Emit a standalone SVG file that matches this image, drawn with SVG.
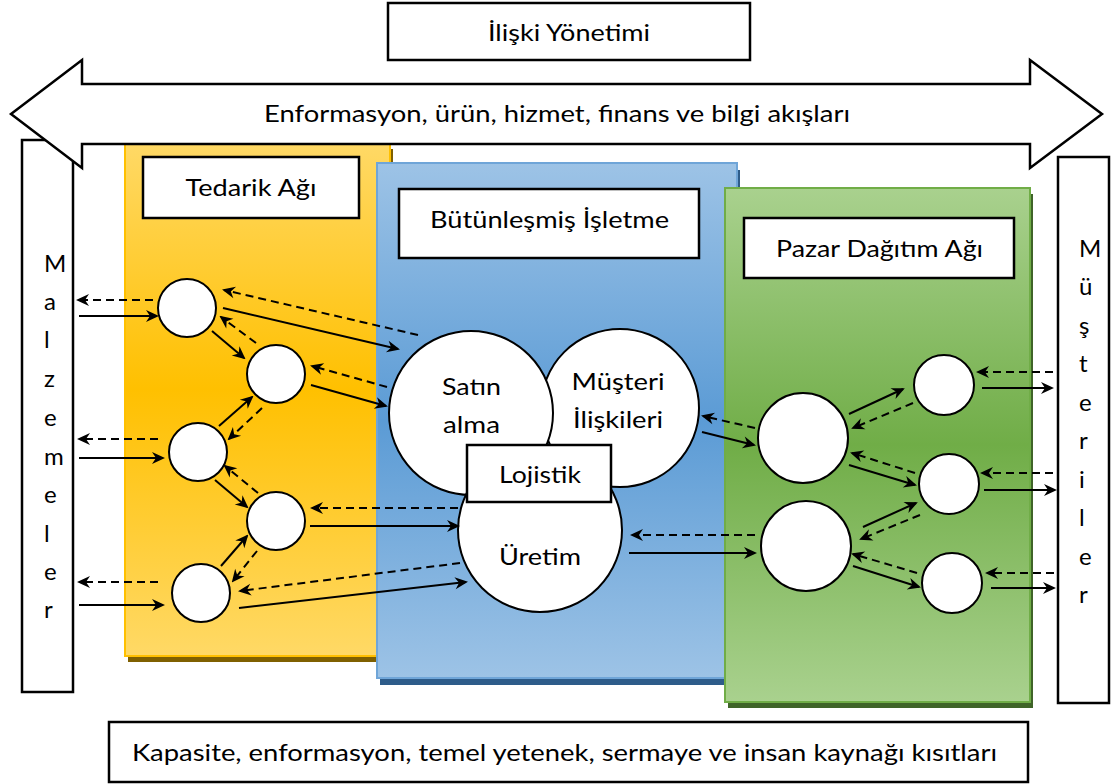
<svg xmlns="http://www.w3.org/2000/svg" width="1119" height="784" viewBox="0 0 1119 784">
<style>
  text { font-family: "Lato", "Open Sans", "Liberation Sans", sans-serif; font-size: 24px; fill: #000; }
  .c { text-anchor: middle; }
  .box { fill: #fff; stroke: #000; stroke-width: 2.5; }
  .circ { fill: #fff; stroke: #000; stroke-width: 2; }
  .s { stroke: #000; stroke-width: 2; fill: none; marker-end: url(#ah); }
  .d { stroke: #000; stroke-width: 2; fill: none; stroke-dasharray: 8 5; marker-end: url(#ah); }
</style>
<defs>
  <linearGradient id="gy" x1="0" y1="0" x2="0" y2="1">
    <stop offset="0" stop-color="#FFD966"/>
    <stop offset="0.48" stop-color="#FFC000"/>
    <stop offset="1" stop-color="#FFD966"/>
  </linearGradient>
  <linearGradient id="gb" x1="0" y1="0" x2="0" y2="1">
    <stop offset="0" stop-color="#9DC3E6"/>
    <stop offset="0.5" stop-color="#5B9BD5"/>
    <stop offset="1" stop-color="#9DC3E6"/>
  </linearGradient>
  <linearGradient id="gg" x1="0" y1="0" x2="0" y2="1">
    <stop offset="0" stop-color="#A9D18E"/>
    <stop offset="0.5" stop-color="#70AD47"/>
    <stop offset="1" stop-color="#A9D18E"/>
  </linearGradient>
  <marker id="ah" markerUnits="userSpaceOnUse" markerWidth="14" markerHeight="14" refX="12" refY="7" orient="auto">
    <path d="M1,1 L14,7 L1,13 L5,7 Z" fill="#000"/>
  </marker>
</defs>

<g id="malzemeler">
  <rect class="box" x="22" y="140" width="51" height="552"/>
  <text x="44" y="272">M</text>
  <text x="44" y="310">a</text>
  <text x="44" y="348">l</text>
  <text x="44" y="387">z</text>
  <text x="44" y="426">e</text>
  <text x="44" y="465">m</text>
  <text x="44" y="503">e</text>
  <text x="44" y="542">l</text>
  <text x="44" y="580">e</text>
  <text x="44" y="618">r</text>
</g>

<g id="musteriler">
  <rect class="box" x="1058" y="157" width="51" height="546"/>
  <text x="1079" y="257">M</text>
  <text x="1079" y="295">ü</text>
  <text x="1079" y="334">ş</text>
  <text x="1079" y="372">t</text>
  <text x="1079" y="411">e</text>
  <text x="1079" y="449">r</text>
  <text x="1079" y="488">i</text>
  <text x="1079" y="526">l</text>
  <text x="1079" y="565">e</text>
  <text x="1079" y="603">r</text>
</g>

<g id="tedarik-agi">
  <rect x="128" y="149" width="265" height="513" fill="#7F6000"/>
  <rect x="125" y="143" width="265" height="513" fill="url(#gy)" stroke="#FFC000" stroke-width="2"/>
  <rect class="box" x="143" y="157" width="216" height="61" stroke-width="2"/>
  <text class="c" x="251" y="196" textLength="131" lengthAdjust="spacingAndGlyphs">Tedarik Ağı</text>
</g>

<g id="butunlesmis-isletme">
  <rect x="380" y="170" width="360" height="515" fill="#2E5C8A"/>
  <rect x="377" y="163" width="360" height="515" fill="url(#gb)" stroke="#6FA5D8" stroke-width="2"/>
  <rect class="box" x="399" y="189" width="300" height="69" stroke-width="2"/>
  <text class="c" x="549.5" y="228" textLength="239" lengthAdjust="spacingAndGlyphs">Bütünleşmiş İşletme</text>
</g>

<g id="pazar-dagitim-agi">
  <rect x="728" y="194" width="305" height="514" fill="#3F6428"/>
  <rect x="725" y="188" width="305" height="514" fill="url(#gg)" stroke="#70AD47" stroke-width="2"/>
  <rect class="box" x="744" y="218" width="270" height="60" stroke-width="2"/>
  <text class="c" x="879.5" y="257" textLength="207" lengthAdjust="spacingAndGlyphs">Pazar Dağıtım Ağı</text>
</g>

<g id="akis-oku">
  <polygon points="11,114 82,60 82,84 1030,84 1030,60 1102,114 1030,168 1030,144 82,144 82,168" fill="#fff" stroke="#000" stroke-width="2.5" stroke-linejoin="miter"/>
  <text class="c" x="557" y="122" textLength="586" lengthAdjust="spacingAndGlyphs">Enformasyon, ürün, hizmet, finans ve bilgi akışları</text>
</g>

<g id="iliski-yonetimi">
  <rect class="box" x="388" y="3" width="362" height="57"/>
  <text class="c" x="569" y="41" textLength="162" lengthAdjust="spacingAndGlyphs">İlişki Yönetimi</text>
</g>

<g id="kisitlar">
  <rect class="box" x="109" y="722" width="919" height="60"/>
  <text class="c" x="564.5" y="761" textLength="865" lengthAdjust="spacingAndGlyphs">Kapasite, enformasyon, temel yetenek, sermaye ve insan kaynağı kısıtları</text>
</g>

<g id="musteri-iliskileri">
  <circle class="circ" cx="620" cy="408" r="79"/>
  <text class="c" x="618" y="390" textLength="93" lengthAdjust="spacingAndGlyphs">Müşteri</text>
  <text class="c" x="618" y="428" textLength="90" lengthAdjust="spacingAndGlyphs">İlişkileri</text>
</g>

<g id="satin-alma">
  <circle class="circ" cx="471" cy="413" r="82"/>
  <text class="c" x="471.5" y="395" textLength="59" lengthAdjust="spacingAndGlyphs">Satın</text>
  <text class="c" x="471.5" y="433" textLength="57" lengthAdjust="spacingAndGlyphs">alma</text>
</g>

<g id="uretim">
  <circle class="circ" cx="540" cy="530" r="82"/>
  <text class="c" x="540" y="565" textLength="82" lengthAdjust="spacingAndGlyphs">Üretim</text>
</g>

<g id="lojistik">
  <rect class="box" x="467" y="445" width="144" height="57" stroke-width="2"/>
  <text class="c" x="540" y="483" textLength="82" lengthAdjust="spacingAndGlyphs">Lojistik</text>
</g>

<g id="tedarikci-1"><circle class="circ" cx="187" cy="308" r="29"/></g>
<g id="tedarikci-2"><circle class="circ" cx="276" cy="374" r="29"/></g>
<g id="tedarikci-3"><circle class="circ" cx="198" cy="452" r="29"/></g>
<g id="tedarikci-4"><circle class="circ" cx="276" cy="521" r="29"/></g>
<g id="tedarikci-5"><circle class="circ" cx="201" cy="593" r="29"/></g>

<g id="dagitici-1"><circle class="circ" cx="803" cy="438" r="45"/></g>
<g id="dagitici-2"><circle class="circ" cx="806" cy="546" r="45"/></g>
<g id="perakende-1"><circle class="circ" cx="944" cy="385" r="30"/></g>
<g id="perakende-2"><circle class="circ" cx="949" cy="484" r="30"/></g>
<g id="perakende-3"><circle class="circ" cx="952" cy="583" r="30"/></g>

<g id="connectors">
  <line class="d" x1="153" y1="300" x2="78" y2="300"/>
  <line class="s" x1="79" y1="316" x2="157" y2="316"/>
  <line class="s" x1="223" y1="308" x2="398" y2="349"/>
  <line class="d" x1="418" y1="335" x2="224" y2="290"/>
  <line class="s" x1="212" y1="331" x2="244" y2="358"/>
  <line class="d" x1="256" y1="343" x2="221" y2="317"/>
  <line class="s" x1="311" y1="385" x2="386" y2="406"/>
  <line class="d" x1="387" y1="387" x2="312" y2="366"/>
  <line class="s" x1="219" y1="426" x2="252" y2="397"/>
  <line class="d" x1="262" y1="408" x2="229" y2="439"/>
  <line class="d" x1="158" y1="439" x2="79" y2="439"/>
  <line class="s" x1="79" y1="458" x2="163" y2="458"/>
  <line class="s" x1="215" y1="480" x2="247" y2="507"/>
  <line class="d" x1="258" y1="493" x2="225" y2="466"/>
  <line class="d" x1="458" y1="508" x2="312" y2="508"/>
  <line class="s" x1="310" y1="526" x2="458" y2="526"/>
  <line class="s" x1="221" y1="566" x2="247" y2="536"/>
  <line class="d" x1="257" y1="551" x2="233" y2="581"/>
  <line class="d" x1="158" y1="582" x2="79" y2="582"/>
  <line class="s" x1="79" y1="605" x2="163" y2="605"/>
  <line class="d" x1="460" y1="563" x2="240" y2="591"/>
  <line class="s" x1="239" y1="608" x2="466" y2="582"/>

  <line class="s" x1="702" y1="432" x2="754" y2="445"/>
  <line class="d" x1="755" y1="428" x2="703" y2="416"/>
  <line class="s" x1="849" y1="414" x2="903" y2="389"/>
  <line class="d" x1="913" y1="403" x2="853" y2="428"/>
  <line class="d" x1="1053" y1="372" x2="978" y2="372"/>
  <line class="s" x1="982" y1="388" x2="1052" y2="388"/>
  <line class="s" x1="849" y1="465" x2="915" y2="485"/>
  <line class="d" x1="915" y1="473" x2="852" y2="453"/>
  <line class="d" x1="1053" y1="473" x2="982" y2="473"/>
  <line class="s" x1="984" y1="490" x2="1055" y2="490"/>
  <line class="s" x1="863" y1="527" x2="916" y2="503"/>
  <line class="d" x1="920" y1="515" x2="861" y2="539"/>
  <line class="s" x1="853" y1="566" x2="919" y2="587"/>
  <line class="d" x1="917" y1="573" x2="853" y2="554"/>
  <line class="d" x1="1054" y1="573" x2="987" y2="573"/>
  <line class="s" x1="991" y1="588" x2="1054" y2="588"/>
  <line class="s" x1="629" y1="553" x2="755" y2="553"/>
  <line class="d" x1="755" y1="535" x2="632" y2="535"/>
</g>
</svg>
